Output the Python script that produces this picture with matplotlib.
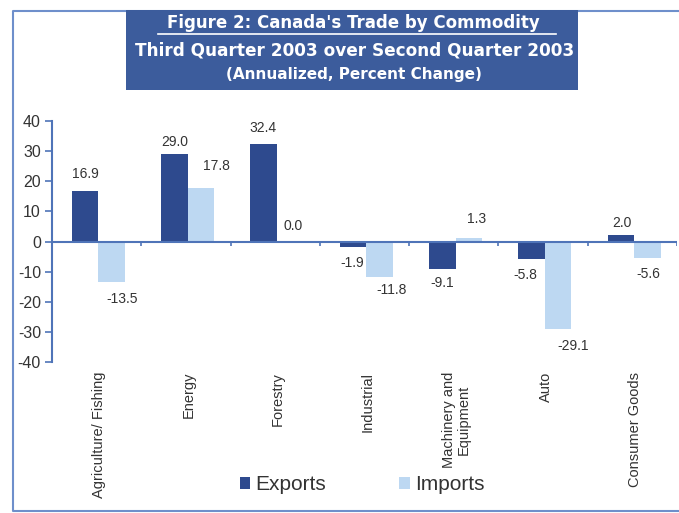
import matplotlib
matplotlib.use("Agg")
import matplotlib.pyplot as plt
from matplotlib.patches import Rectangle, Patch
from matplotlib.lines import Line2D

# ---- data ----
categories = ["Agriculture/ Fishing", "Energy", "Forestry", "Industrial",
              "Machinery and\nEquipment", "Auto", "Consumer Goods"]
exports = [16.9, 29.0, 32.4, -1.9, -9.1, -5.8, 2.0]
imports = [-13.5, 17.8, 0.0, -11.8, 1.3, -29.1, -5.6]
yticks = [40, 30, 20, 10, 0, -10, -20, -30, -40]
title1 = "Figure 2: Canada's Trade by Commodity "
title2 = "Third Quarter 2003 over Second Quarter 2003"
title3 = "(Annualized, Percent Change)"

# label offsets in pixels (dx, dy) relative to bar end
exp_off = [(0, 17), (0, 12), (-1, 16), (-1, -16), (0, -14), (-6, -16), (1, 12)]
imp_off = [(10, -17), (15, 22), (3, 16), (12, -13), (8, 19), (15, -17), (1, -16)]

EXP_C = "#2E4A8E"
IMP_C = "#BDD8F2"
AX_C = "#4F74B8"
TXT_C = "#333333"
BOX_C = "#3C5C9C"

sans = ["Liberation Sans", "DejaVu Sans"]
wide = ["DejaVu Sans"]

fig = plt.figure(figsize=(6.79, 5.13), dpi=100)
fig.patch.set_facecolor("white")

# outer frame
frame = Line2D([679/679, 13/679, 13/679, 679/679],
               [1-11/513, 1-11/513, 1-511/513, 1-511/513],
               transform=fig.transFigure, color="#6E8FCB", lw=1.5)
fig.add_artist(frame)

# title box
fig.add_artist(Rectangle((126/679, 1-90/513), (578-126)/679, (90-10)/513,
                         transform=fig.transFigure, facecolor=BOX_C,
                         edgecolor="none", zorder=2))
fig.text(356/679, 1-23/513, title1, color="white", fontsize=12,
         fontweight="bold", family=wide, ha="center", va="center", zorder=3)
fig.add_artist(Line2D([158/679, 556/679], [1-34/513, 1-34/513],
                      transform=fig.transFigure, color="white", lw=1.2, zorder=3))
fig.text(355/679, 1-51/513, title2, color="white", fontsize=12.2,
         fontweight="bold", family=wide, ha="center", va="center", zorder=3)
fig.text(354/679, 1-74/513, title3, color="white", fontsize=11,
         fontweight="bold", family=wide, ha="center", va="center", zorder=3)

ax = fig.add_axes([52/679, 1-362/513, 625/679, 241/513])
ax.set_facecolor("none")
w = 0.297
sh = 0.02
xs = list(range(len(categories)))
ax.bar([x - w/2 + sh for x in xs], exports, width=w, color=EXP_C, zorder=2)
ax.bar([x + w/2 + sh for x in xs], imports, width=w, color=IMP_C, zorder=2)

for i, (e, im) in enumerate(zip(exports, imports)):
    ax.annotate(f"{e:.1f}", (i - w/2 + sh, e), xytext=exp_off[i],
                textcoords="offset pixels", ha="center", va="center",
                fontsize=10, color=TXT_C, family=sans)
    ax.annotate(f"{im:.1f}", (i + w/2 + sh, im), xytext=imp_off[i],
                textcoords="offset pixels", ha="center", va="center",
                fontsize=10, color=TXT_C, family=sans)

ax.set_xlim(-0.5, len(categories) - 0.5)
ax.set_ylim(-40, 40)
ax.axhline(0, color=AX_C, lw=1.5, zorder=3)
ax.vlines([b + 0.5 for b in xs], -1.4, 0, color=AX_C, lw=1.2, zorder=3)

for s in ["top", "right", "bottom"]:
    ax.spines[s].set_visible(False)
ax.spines["left"].set_color(AX_C)
ax.spines["left"].set_linewidth(1.5)

ax.set_yticks(yticks)
ax.set_yticklabels([str(t) for t in yticks], fontsize=11.5, color=TXT_C, family=sans)
ax.tick_params(axis="y", direction="out", length=5, color=AX_C, width=1.2, pad=3)

ax.set_xticks([x + 0.03 for x in xs])
ax.set_xticklabels(categories, rotation=90, va="top", ha="center",
                   fontsize=10.5, color=TXT_C, family=sans, linespacing=1.0)
ax.tick_params(axis="x", length=0, pad=7)

handles = [Patch(facecolor=EXP_C, label="Exports"),
           Patch(facecolor=IMP_C, label="Imports")]
fig.legend(handles=handles, loc="center", bbox_to_anchor=(362/679, 1-485/513),
           ncol=2, frameon=False, handlelength=0.5, handleheight=0.5,
           handletextpad=0.25, columnspacing=3.5,
           prop={"family": sans, "size": 15}, labelcolor=TXT_C)

fig.savefig("out.png", dpi=100, facecolor="white")
